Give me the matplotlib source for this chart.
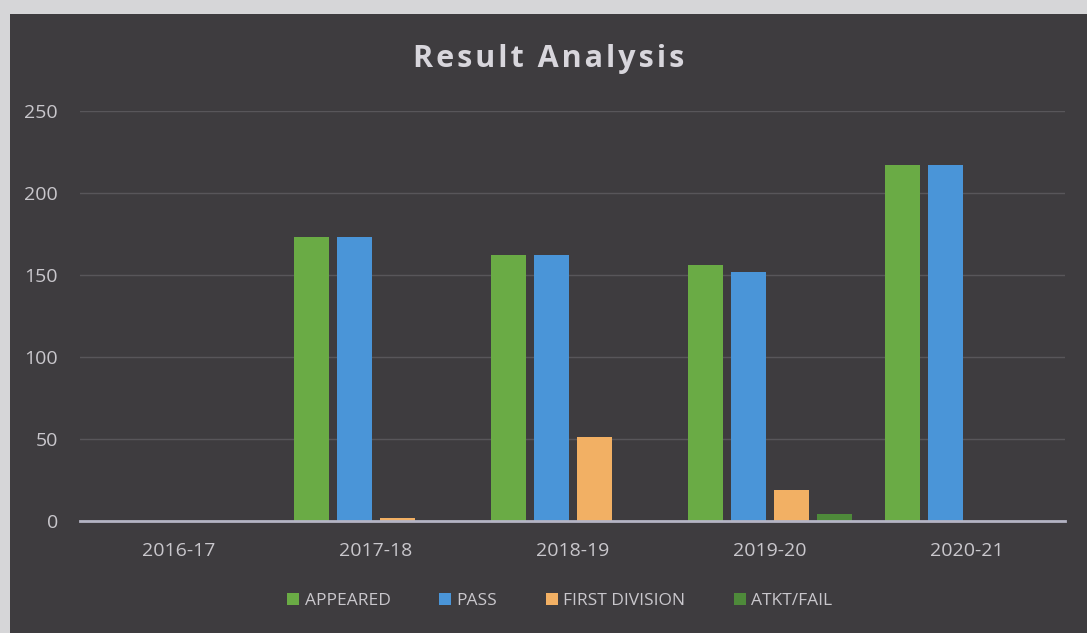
import numpy as np
import matplotlib
matplotlib.use('Agg')
import matplotlib.pyplot as plt
from matplotlib.patches import Rectangle

# Данные графика
years = ['2016-17', '2017-18', '2018-19', '2019-20', '2020-21']
appeared = [0, 173, 162, 156, 217]
passed = [0, 173, 162, 152, 217]
first_division = [0, 2, 51, 19, 0]
atkt_fail = [0, 0, 0, 4, 0]

series_names = ['APPEARED', 'PASS', 'FIRST DIVISION', 'ATKT/FAIL']
series_values = [appeared, passed, first_division, atkt_fail]
series_colors = ['#6aab45', '#4a95d8', '#f2b064', '#4e8a3a']

text_color = '#c9c7cc'
bg_color = '#3e3c3f'

plt.rcParams['font.family'] = ['Open Sans', 'DejaVu Sans']

fig = plt.figure(figsize=(10.87, 6.33), dpi=100, facecolor='#d6d6d8')
# тёмная область диаграммы (светлая полоса слева и сверху как на фото)
fig.patches.append(Rectangle((10 / 1087, 0), 1, 1 - 14 / 633, transform=fig.transFigure,
                             facecolor=bg_color, edgecolor='none', zorder=-5))

ax = fig.add_axes([0.0736, 0.177, 0.9064, 0.648])
ax.set_facecolor('none')
ax.set_zorder(2)

x = np.arange(len(years))
step = 0.218
width = 0.178
for i, (name, vals, col) in enumerate(zip(series_names, series_values, series_colors)):
    ax.bar(x + (i - 1.5) * step, vals, width, color=col, label=name, zorder=3)

ax.set_xlim(-0.5, len(years) - 0.5)
ax.set_ylim(0, 250)
ax.set_yticks(range(0, 251, 50))
ax.set_xticks(x)
ax.set_xticklabels(years)

# оформление осей
for side in ['top', 'right', 'left']:
    ax.spines[side].set_visible(False)
ax.spines['bottom'].set_color('#b4b4c4')
ax.spines['bottom'].set_linewidth(2)
ax.spines['bottom'].set_zorder(4)
ax.tick_params(axis='both', length=0, colors=text_color, labelsize=14)
ax.tick_params(axis='x', pad=15)
ax.tick_params(axis='y', pad=16)
ax.grid(axis='y', color='#58565a', linewidth=1, zorder=0)

# заголовок с разрядкой букв
title = '\u200a'.join('Result Analysis')
fig.text(0.505, 0.907, title, ha='center', va='center', color='#d8d6dc',
         fontsize=22, fontweight='bold')

leg = fig.legend(loc='center', bbox_to_anchor=(0.515, 0.051), ncol=4, frameon=False,
                 fontsize=12.5, handlelength=0.7, handleheight=0.7, handletextpad=0.3,
                 columnspacing=2.8)
for t in leg.get_texts():
    t.set_color(text_color)

plt.savefig('out.png', dpi=100, facecolor=fig.get_facecolor())
